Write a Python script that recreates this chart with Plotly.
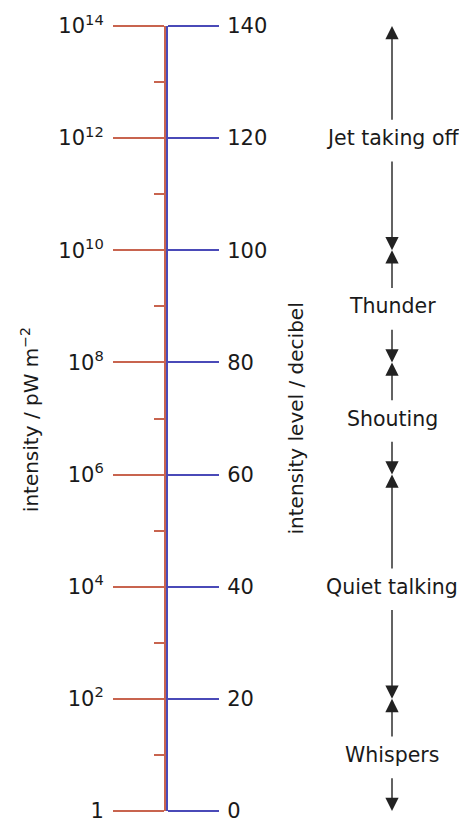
import plotly.graph_objects as go

# ---- data ----
db_ticks = [0, 20, 40, 60, 80, 100, 120, 140]
intensity_exp = [0, 2, 4, 6, 8, 10, 12, 14]
intensity_labels = ["1", "10<sup>2</sup>", "10<sup>4</sup>", "10<sup>6</sup>",
                    "10<sup>8</sup>", "10<sup>10</sup>", "10<sup>12</sup>", "10<sup>14</sup>"]
minor_exp = [1, 3, 5, 7, 9, 11, 13]
sources = ["Jet taking off", "Thunder", "Shouting", "Quiet talking", "Whispers"]
source_low = [100, 80, 60, 20, 0]
source_high = [140, 100, 80, 60, 20]
source_label_db = [120, 90, 70, 40, 10]

RED = "#c8644f"
BLUE = "#4a4ab8"
TXT = "#1a1a1a"
FONT = "DejaVu Sans"
W, H = 459, 823

fig = go.Figure()
# invisible traces so both axes are drawn
fig.add_trace(go.Scatter(x=[0, 0], y=[10 ** intensity_exp[0], 10 ** intensity_exp[-1]],
                         mode="markers", marker=dict(opacity=0), hoverinfo="skip",
                         showlegend=False, yaxis="y"))
fig.add_trace(go.Scatter(x=[0, 0], y=[db_ticks[0], db_ticks[-1]],
                         mode="markers", marker=dict(opacity=0), hoverinfo="skip",
                         showlegend=False, yaxis="y2"))

ARROW_X = 392
GAP_UP = 3.0
GAP_DN = 3.9
annotations = []
for name, lo, hi, mid in zip(sources, source_low, source_high, source_label_db):
    annotations.append(dict(x=ARROW_X, y=mid, xref="x", yref="y2", text=name,
                            showarrow=False, font=dict(size=20.5, color=TXT, family=FONT)))
    # upward arrow
    annotations.append(dict(x=ARROW_X, y=hi, xref="x", yref="y2",
                            ax=ARROW_X, ay=mid + GAP_UP, axref="x", ayref="y2",
                            text="", showarrow=True, arrowhead=2, arrowsize=1.9,
                            arrowwidth=1.4, arrowcolor="#222222", standoff=0, startstandoff=0))
    # downward arrow
    annotations.append(dict(x=ARROW_X, y=lo, xref="x", yref="y2",
                            ax=ARROW_X, ay=mid - GAP_DN, axref="x", ayref="y2",
                            text="", showarrow=True, arrowhead=2, arrowsize=1.9,
                            arrowwidth=1.4, arrowcolor="#222222", standoff=0, startstandoff=0))

annotations.append(dict(x=30, y=69.7, xref="x", yref="y2", text="intensity / pW m<sup>−2</sup>",
                        textangle=-90, showarrow=False, font=dict(size=20, color=TXT, family=FONT)))
annotations.append(dict(x=295, y=70, xref="x", yref="y2", text="intensity level / decibel",
                        textangle=-90, showarrow=False, font=dict(size=20, color=TXT, family=FONT)))

fig.update_layout(
    width=W, height=H,
    margin=dict(l=0, r=0, t=26, b=8),
    paper_bgcolor="white", plot_bgcolor="white",
    showlegend=False,
    xaxis=dict(range=[0, W], visible=False, fixedrange=True),
    yaxis=dict(
        type="log", range=[intensity_exp[0], intensity_exp[-1]],
        anchor="free", position=165 / W, side="left",
        showline=True, linecolor=RED, linewidth=2,
        ticks="outside", ticklen=51, tickwidth=1.5, tickcolor=RED,
        tickvals=[10 ** e for e in intensity_exp], ticktext=intensity_labels,
        ticklabelstandoff=5, ticklabeloverflow="allow",
        tickfont=dict(size=21, color=TXT, family=FONT),
        minor=dict(ticks="outside", ticklen=10, tickwidth=1.5, tickcolor=RED,
                   tickvals=[10 ** e for e in minor_exp], showgrid=False),
        showgrid=False, zeroline=False,
    ),
    yaxis2=dict(
        range=[db_ticks[0], db_ticks[-1]], overlaying="y",
        anchor="free", position=167 / W, side="right",
        showline=True, linecolor=BLUE, linewidth=2,
        ticks="outside", ticklen=51, tickwidth=1.5, tickcolor=BLUE,
        tickvals=db_ticks, ticktext=[str(v) for v in db_ticks],
        ticklabelstandoff=4, ticklabeloverflow="allow",
        tickfont=dict(size=21, color=TXT, family=FONT),
        showgrid=False, zeroline=False,
    ),
    annotations=annotations,
)

fig.write_html("out.html")
